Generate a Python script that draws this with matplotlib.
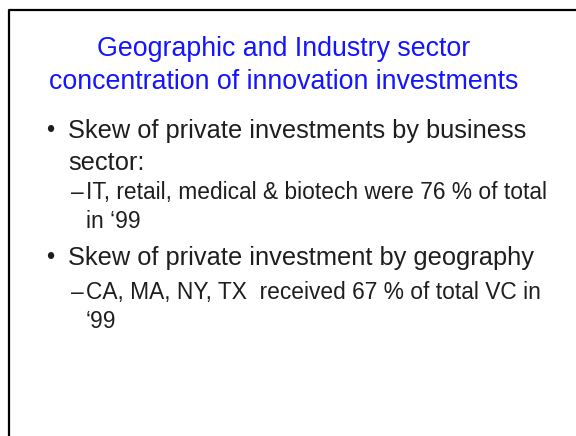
import matplotlib
matplotlib.use('Agg')
import matplotlib.pyplot as plt

# slide text
title_lines = ['Geographic and Industry sector',
               'concentration of innovation investments']
bullets = ['Skew of private investments by business\nsector:',
           'Skew of private investment by geography']
sub_items = [['IT, retail, medical & biotech were 76 % of total', 'in \u201899'],
             ['CA, MA, NY, TX  received 67 % of total VC in', '\u201899']]

plt.rcParams['font.family'] = ['Liberation Sans', 'DejaVu Sans']

fig = plt.figure(figsize=(5.76, 4.36), dpi=100)
ax = fig.add_axes([0, 0, 1, 1])
ax.set_xlim(0, 576)
ax.set_ylim(436, 0)
ax.axis('off')

# slide border (runs off right and bottom edges)
ax.plot([9, 9, 590], [450, 10, 10], color='black', lw=1.6, solid_capstyle='butt')

# title
title_y = [56, 89]
for t, y in zip(title_lines, title_y):
    ax.text(284, y, t, color='#1414ff', fontsize=19.3, ha='center', va='baseline')

txt_col = '#1e1e1e'
bullet_y = [138, 265]
sub_y = [[199, 228], [299, 328]]
for b, by, subs, sy in zip(bullets, bullet_y, sub_items, sub_y):
    ax.text(50, by - 1, '\u2022', color=txt_col, fontsize=17, ha='center', va='baseline')
    lines = b.split('\n')
    for i, ln in enumerate(lines):
        ax.text(68, by + 32 * i, ln, color=txt_col, fontsize=18.3, va='baseline')
    ax.text(71, sy[0], '\u2013', color=txt_col, fontsize=16.4, va='baseline')
    for s, yy in zip(subs, sy):
        ax.text(86, yy, s, color=txt_col, fontsize=16.4, va='baseline')

fig.savefig('out.png', dpi=100, facecolor='white')
